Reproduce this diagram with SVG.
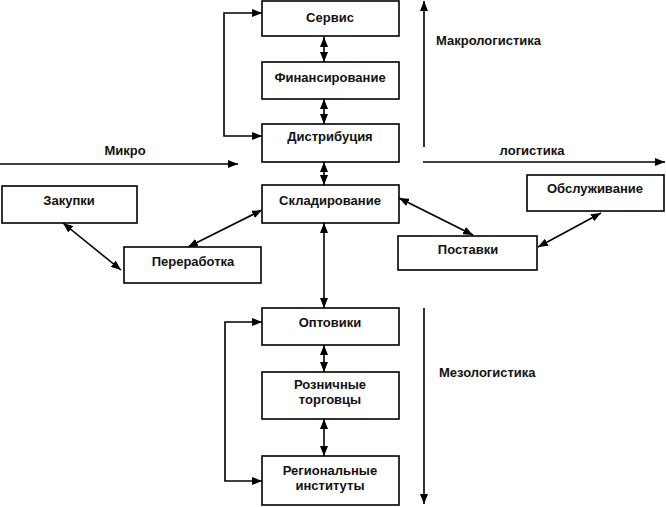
<svg xmlns="http://www.w3.org/2000/svg" width="666" height="507" viewBox="0 0 666 507">
<defs>
<marker id="ah" markerUnits="userSpaceOnUse" markerWidth="10" markerHeight="8" refX="10" refY="4" orient="auto-start-reverse" viewBox="0 0 10 8">
<path d="M0,0 L10,4 L0,8 z" fill="#000"/>
</marker>
<style>
.box{fill:#fff;stroke:#000;stroke-width:1.6}
.t{font-family:"Liberation Sans",Arial,sans-serif;font-size:13px;font-weight:bold;fill:#111;text-anchor:middle}
.l{font-family:"Liberation Sans",Arial,sans-serif;font-size:13px;font-weight:bold;fill:#111}
.c{fill:none;stroke:#000;stroke-width:1.6}
.cb{fill:none;stroke:#000;stroke-width:1.6;marker-start:url(#ah);marker-end:url(#ah)}
.ce{fill:none;stroke:#000;stroke-width:1.6;marker-end:url(#ah)}
</style>
</defs>
<g id="connectors">
<line class="cb" x1="324" y1="37" x2="324" y2="62"/>
<line class="cb" x1="324" y1="99" x2="324" y2="124"/>
<line class="cb" x1="324" y1="162" x2="324" y2="185"/>
<line class="cb" x1="324" y1="223" x2="324" y2="308"/>
<line class="cb" x1="324" y1="345" x2="324" y2="372"/>
<line class="cb" x1="324" y1="419" x2="324" y2="456"/>
<path class="cb" d="M262,13 H224 V136 H262"/>
<path class="cb" d="M262,322 H225 V481 H262"/>
<line class="cb" x1="63" y1="223" x2="121" y2="270"/>
<line class="cb" x1="188" y1="247" x2="262" y2="210"/>
<line class="cb" x1="399" y1="198" x2="473" y2="235"/>
<line class="cb" x1="538" y1="247" x2="601" y2="213"/>
<line class="ce" x1="0" y1="164" x2="238" y2="164" style="stroke-width:1.3"/>
<line class="ce" x1="423" y1="162" x2="665" y2="162" style="stroke-width:1.3"/>
<line class="ce" x1="424" y1="147" x2="424" y2="1"/>
<line class="ce" x1="424" y1="308" x2="424" y2="504"/>
</g>
<g id="servis"><rect class="box" x="262" y="1" width="137" height="35"/><text class="t" x="330" y="22">Сервис</text></g>
<g id="finans"><rect class="box" x="262" y="62" width="137" height="37"/><text class="t" x="330" y="82">Финансирование</text></g>
<g id="distrib"><rect class="box" x="262" y="124" width="137" height="38"/><text class="t" x="330" y="141">Дистрибуция</text></g>
<g id="sklad"><rect class="box" x="262" y="185" width="137" height="38"/><text class="t" x="330" y="205">Складирование</text></g>
<g id="zakupki"><rect class="box" x="2" y="186" width="135" height="37"/><text class="t" x="69" y="205">Закупки</text></g>
<g id="pererab"><rect class="box" x="124" y="247" width="137" height="36"/><text class="t" x="193" y="266">Переработка</text></g>
<g id="postavki"><rect class="box" x="398" y="236" width="139" height="34"/><text class="t" x="468" y="254">Поставки</text></g>
<g id="obsl"><rect class="box" x="527" y="175" width="137" height="36"/><text class="t" x="595" y="193">Обслуживание</text></g>
<g id="optoviki"><rect class="box" x="262" y="308" width="137" height="37"/><text class="t" x="330" y="327">Оптовики</text></g>
<g id="rozn"><rect class="box" x="262" y="372" width="137" height="47"/><text class="t" x="330" y="389">Розничные</text><text class="t" x="330" y="404">торговцы</text></g>
<g id="region"><rect class="box" x="262" y="456" width="137" height="49"/><text class="t" x="330" y="475">Региональные</text><text class="t" x="330" y="490">институты</text></g>
<g id="labels">
<text class="t" x="125" y="155">Микро</text>
<text class="t" x="532" y="155">логистика</text>
<text class="l" x="436" y="45">Макрологистика</text>
<text class="l" x="439" y="377">Мезологистика</text>
</g>
</svg>
